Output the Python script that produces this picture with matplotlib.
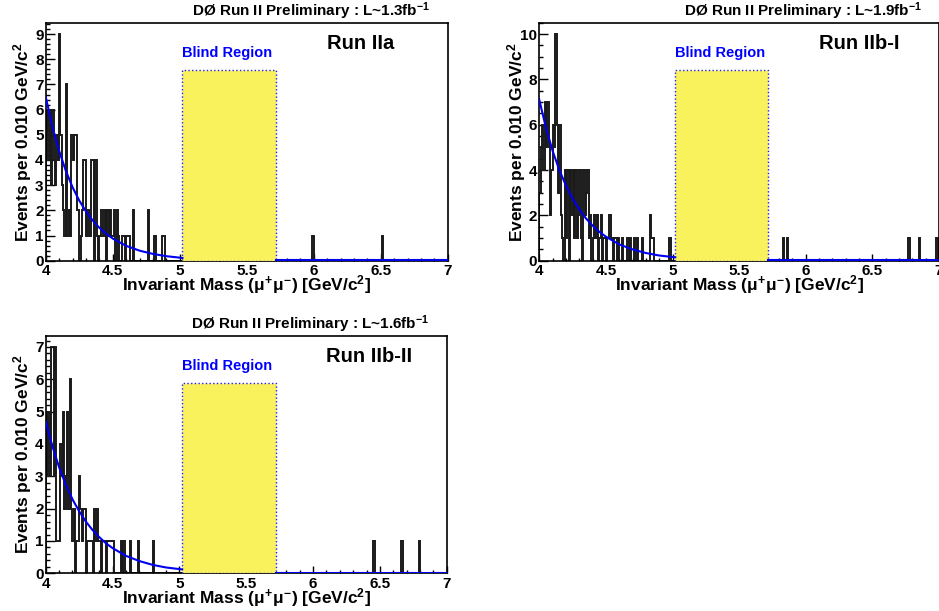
import numpy as np
import matplotlib.pyplot as plt
from matplotlib.patches import Rectangle
from matplotlib.ticker import MultipleLocator, FormatStrFormatter

plt.rcParams['font.family'] = ['Liberation Sans', 'DejaVu Sans']
plt.rcParams['font.weight'] = 'bold'
plt.rcParams['mathtext.fontset'] = 'custom'
plt.rcParams['mathtext.rm'] = 'Liberation Sans:bold'
plt.rcParams['mathtext.it'] = 'Liberation Sans:bold'
plt.rcParams['mathtext.bf'] = 'Liberation Sans:bold'

# events per 0.010 GeV/c^2 bin, bins 4.00 ... 4.99
counts_2a = [5, 6, 4, 6, 3, 6, 4, 3, 5, 4,
             9, 5, 3, 2, 1, 7, 1, 2, 1, 5,
             4, 5, 5, 2, 2, 0, 1, 2, 4, 4,
             1, 2, 1, 1, 4, 4, 0, 4, 1, 0,
             1, 2, 2, 1, 2, 0, 2, 1, 2, 1,
             1, 2, 0, 2, 1, 0, 0, 1, 1, 0,
             1, 1, 1, 0, 0, 2, 0, 0, 0, 0,
             0, 0, 0, 0, 0, 0, 2, 0, 0, 0,
             0, 1, 0, 0, 0, 0, 0, 1, 1, 0,
             0, 0, 0, 0, 0, 0, 0, 0, 0, 0]
counts_2b1 = [3, 5, 6, 4, 7, 5, 7, 5, 2, 4,
              6, 5, 10, 6, 3, 6, 2, 1, 0, 4,
              1, 4, 0, 4, 2, 4, 1, 4, 1, 2,
              4, 1, 0, 4, 2, 3, 4, 1, 2, 0,
              1, 2, 1, 2, 0, 1, 2, 0, 1, 1,
              0, 1, 2, 2, 1, 0, 1, 1, 0, 1,
              0, 0, 1, 0, 0, 0, 1, 0, 1, 0,
              0, 1, 0, 1, 0, 0, 0, 1, 0, 0,
              0, 0, 0, 2, 1, 1, 0, 0, 0, 0,
              0, 0, 0, 0, 0, 0, 0, 1, 1, 0]
counts_2b2 = [5, 3, 5, 3, 7, 7, 3, 7, 1, 1,
              1, 4, 3, 5, 2, 3, 5, 2, 6, 2,
              1, 2, 0, 1, 1, 3, 2, 1, 2, 2,
              0, 1, 1, 1, 1, 0, 2, 1, 2, 1,
              1, 0, 1, 1, 1, 0, 1, 1, 1, 1,
              1, 0, 0, 0, 0, 0, 1, 0, 1, 0,
              0, 0, 0, 1, 0, 0, 0, 0, 0, 1,
              0, 0, 0, 0, 0, 0, 0, 0, 0, 0,
              1, 0, 0, 0, 0, 0, 0, 0, 0, 0,
              0, 0, 0, 0, 0, 0, 0, 0, 0, 0]

# single events above the blind region: (mass, count)
tail_2a = [(5.99, 1), (6.51, 1)]
tail_2b1 = [(5.83, 1), (5.86, 1), (6.77, 1), (6.85, 1), (6.98, 1)]
tail_2b2 = [(6.45, 1), (6.66, 1), (6.79, 1)]

# background fit curve
fit_x = [4.00, 4.05, 4.10, 4.15, 4.20, 4.25, 4.30, 4.35, 4.40, 4.45,
         4.50, 4.60, 4.70, 4.80, 4.90, 5.02]
fit_2a = [6.5, 5.32, 4.36, 3.57, 2.92, 2.39, 1.96, 1.60, 1.31, 1.08,
          0.88, 0.59, 0.40, 0.27, 0.18, 0.11]
fit_2b1 = [7.1, 5.87, 4.85, 4.01, 3.32, 2.74, 2.27, 1.87, 1.55, 1.28,
           1.06, 0.72, 0.50, 0.34, 0.23, 0.15]
fit_2b2 = [4.7, 3.93, 3.28, 2.74, 2.29, 1.92, 1.60, 1.34, 1.12, 0.93,
           0.78, 0.54, 0.38, 0.26, 0.18, 0.12]
fit_tail_x = [5.72, 7.0]
fit_tail_y = [0.02, 0.02]

blind_lo, blind_hi = 5.02, 5.72
lumis = ['1.3', '1.9', '1.6']
runs = ['Run IIa', 'Run IIb-I', 'Run IIb-II']
ymaxes = [9.45, 10.5, 7.35]
ymajor = [1, 2, 1]
yminor = [0.2, 0.5, 0.2]

edges = np.round(4.0 + 0.01 * np.arange(301), 2)


def full_counts(low, tail):
    c = np.zeros(300)
    c[:100] = low
    for m, n in tail:
        c[int(round((m - 4.0) / 0.01))] = n
    return c


fig = plt.figure(figsize=(9.39, 6.11), dpi=100)
ax1 = fig.add_axes([0.0487, 0.5733, 0.4281, 0.3895])
ax2 = fig.add_axes([0.5743, 0.5733, 0.4257, 0.3895])
ax3 = fig.add_axes([0.0487, 0.0617, 0.4271, 0.3889])

panels = [(ax1, counts_2a, tail_2a, fit_2a),
          (ax2, counts_2b1, tail_2b1, fit_2b1),
          (ax3, counts_2b2, tail_2b2, fit_2b2)]

for i, (ax, low, tail, fit) in enumerate(panels):
    ymax = ymaxes[i]
    ax.stairs(full_counts(low, tail), edges, color='#1a1a1a', lw=1.4, zorder=2)
    ax.add_patch(Rectangle((blind_lo, 0), blind_hi - blind_lo, 0.8 * ymax,
                           facecolor='#f9f25c', edgecolor='#2020ff',
                           linestyle=':', lw=1.0, zorder=3))
    ax.plot(fit_x, fit, color='#0000ee', lw=1.5, zorder=4)
    ax.plot(fit_tail_x, fit_tail_y, color='#0000ee', lw=1.5, zorder=4)

    ax.set_xlim(4, 7)
    ax.set_ylim(0, ymax)
    ax.xaxis.set_major_locator(MultipleLocator(0.5))
    ax.xaxis.set_minor_locator(MultipleLocator(0.1))
    ax.yaxis.set_major_locator(MultipleLocator(ymajor[i]))
    ax.yaxis.set_minor_locator(MultipleLocator(yminor[i]))
    ax.xaxis.set_major_formatter(FormatStrFormatter('%g'))
    ax.yaxis.set_major_formatter(FormatStrFormatter('%g'))
    ax.tick_params(axis='x', which='major', direction='in', length=5, width=1,
                   pad=2.5, labelsize=11)
    ax.tick_params(axis='x', which='minor', direction='in', length=2.5, width=1)
    ax.tick_params(axis='y', which='major', direction='in', length=6.5, width=1,
                   pad=1.5, labelsize=11)
    ax.tick_params(axis='y', which='minor', direction='in', length=3.2, width=1)
    for s in ax.spines.values():
        s.set_linewidth(1.2)

    ax.text(0.5, -0.1, r'Invariant Mass ($\mu^{+}\mu^{-}$) [GeV/c$^{2}$]',
            transform=ax.transAxes, ha='center', va='center', fontsize=12.5,
            fontweight='bold')
    ax.text(-0.057, 0.5, r'Events per 0.010 GeV/c$^{2}$', transform=ax.transAxes,
            rotation=90, ha='center', va='center', fontsize=12.5, fontweight='bold')
    ax.text(0.957, 1.05, 'D\u00d8 Run II Preliminary : L~' + lumis[i] + r'fb$^{-1}$',
            transform=ax.transAxes, ha='right', va='center', fontsize=11,
            fontweight='bold')
    ax.text(0.452, 0.874, 'Blind Region', transform=ax.transAxes, ha='center',
            va='center', color='#0000ff', fontsize=10.5, fontweight='bold')
    ax.text(0.70, 0.913, runs[i], transform=ax.transAxes, ha='left',
            va='center', fontsize=14.5, fontweight='bold')

fig.savefig('out.png', dpi=100)
